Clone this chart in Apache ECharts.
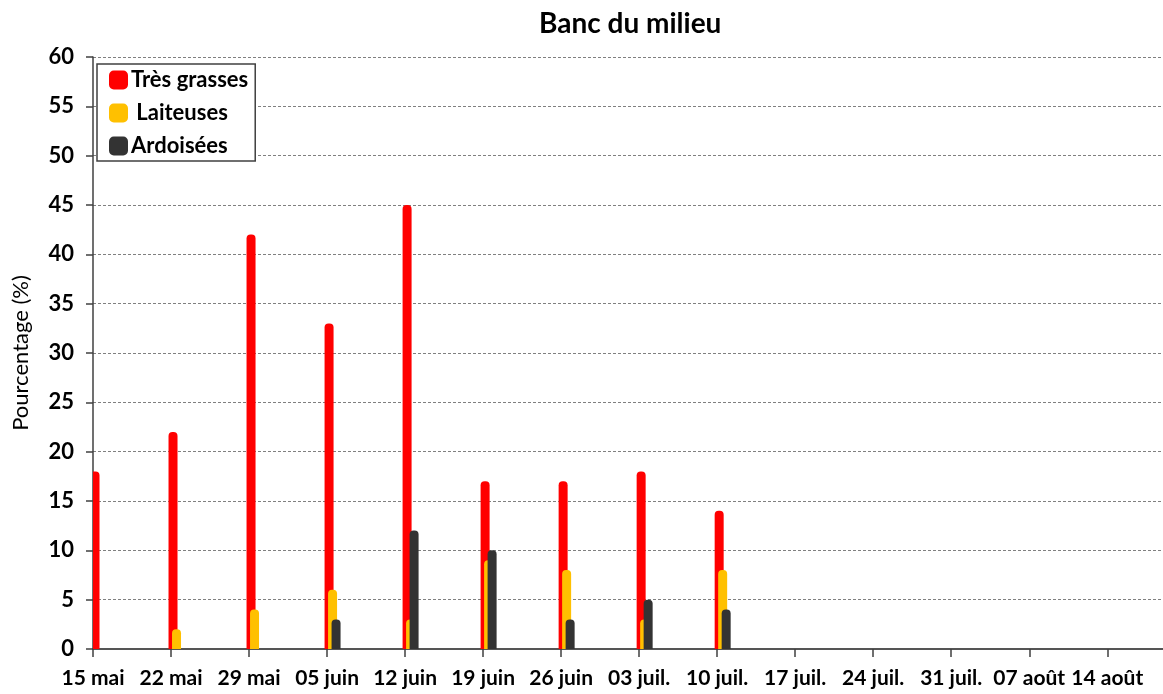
<!DOCTYPE html>
<html>
<head>
<meta charset="utf-8">
<script src="https://cdn.jsdelivr.net/npm/echarts@6/dist/echarts.min.js"></script>
<style>
  html, body { margin: 0; padding: 0; background: #fff; }
  #chart { width: 1163px; height: 694px; }
</style>
</head>
<body>
<div id="chart"></div>
<script>
// weekly sampling dates (tick labels), one every 7 days from 15 mai
const weekLabels = ['15 mai', '22 mai', '29 mai', '05 juin', '12 juin', '19 juin', '26 juin',
  '03 juil.', '10 juil.', '17 juil.', '24 juil.', '31 juil.', '07 août', '14 août'];

// values in % for the sampled weeks (15 mai .. 10 juil.)
const tresGrasses = [18, 22, 42, 33, 45, 17, 17, 18, 14];
const laiteuses   = [0, 2, 4, 6, 3, 9, 8, 3, 8];
const ardoisees   = [0, 0, 0, 3, 12, 10, 3, 5, 4];

const FONT = 'Lato, "Noto Sans", sans-serif';

// x value = days since 15 mai
const toPoints = vals => vals.map((v, i) => [i * 7, v]);

// bars are thin overlapping columns, each shifted a few pixels right of the tick
function barRenderer(offset) {
  return function (params, api) {
    const top = api.coord([api.value(0), api.value(1)]);
    const base = api.coord([api.value(0), 0]);
    const w = 9;
    const h = base[1] - top[1];
    if (h <= 0) return null;
    return {
      type: 'rect',
      shape: { x: top[0] + offset - w / 2, y: top[1], width: w, height: h, r: [4, 4, 0, 0] },
      style: api.style()
    };
  };
}

const chart = echarts.init(document.getElementById('chart'));

chart.setOption({
  animation: false,
  title: {
    text: 'Banc du milieu',
    left: 534,
    top: 5,
    textStyle: { fontFamily: FONT, fontWeight: 'bold', fontSize: 28, color: '#000' }
  },
  legend: {
    orient: 'vertical',
    left: 97,
    top: 64,
    padding: [5, 7, 4, 12],
    itemGap: 11,
    itemWidth: 19,
    itemHeight: 19,
    icon: 'roundRect',
    borderColor: '#404040',
    borderWidth: 1.5,
    backgroundColor: '#fff',
    formatter: name => (name === 'Laiteuses' ? ' ' + name : name),
    textStyle: { fontFamily: FONT, fontWeight: 'bold', fontSize: 22, lineHeight: 21, color: '#000', padding: [0, 0, 0, -2] }
  },
  grid: {
    left: 93,
    right: 0,
    top: 57,
    bottom: 45
  },
  xAxis: [
    {
      type: 'value',
      min: 0,
      max: 96,
      interval: 7,
      axisLine: { onZero: false, lineStyle: { color: '#404040', width: 1.5 } },
      axisTick: { show: true, length: 8, lineStyle: { color: '#404040', width: 1.5 } },
      splitLine: { show: false },
      axisLabel: {
        margin: 19,
        fontFamily: FONT,
        fontWeight: 'bold',
        fontSize: 21,
        color: '#000',
        showMaxLabel: false,
        formatter: v => (v % 7 === 0 && weekLabels[v / 7] !== undefined ? weekLabels[v / 7] : '')
      }
    },
    {
      // top frame line of the plot area
      type: 'value',
      position: 'top',
      min: 0,
      max: 96,
      axisLine: { show: true, lineStyle: { color: '#555', width: 2 } },
      axisTick: { show: false },
      axisLabel: { show: false },
      splitLine: { show: false }
    }
  ],
  yAxis: {
    type: 'value',
    min: 0,
    max: 60,
    interval: 5,
    name: 'Pourcentage (%)',
    nameLocation: 'middle',
    nameGap: 61,
    nameTextStyle: { fontFamily: FONT, fontSize: 22, color: '#000' },
    axisLine: { show: true, lineStyle: { color: '#404040', width: 1.5 } },
    axisTick: { show: true, length: 7, lineStyle: { color: '#404040', width: 1.5 } },
    axisLabel: { margin: 19, fontFamily: FONT, fontWeight: 'bold', fontSize: 22, color: '#000' },
    splitLine: { show: true, lineStyle: { color: '#808080', type: [3, 2], width: 1 } }
  },
  series: [
    {
      name: 'Très grasses',
      type: 'custom',
      clip: true,
      renderItem: barRenderer(2),
      itemStyle: { color: '#ff0000' },
      encode: { x: 0, y: 1 },
      data: toPoints(tresGrasses)
    },
    {
      name: 'Laiteuses',
      type: 'custom',
      clip: true,
      renderItem: barRenderer(5.5),
      itemStyle: { color: '#ffc000' },
      encode: { x: 0, y: 1 },
      data: toPoints(laiteuses)
    },
    {
      name: 'Ardoisées',
      type: 'custom',
      clip: true,
      renderItem: barRenderer(9),
      itemStyle: { color: '#333333' },
      encode: { x: 0, y: 1 },
      data: toPoints(ardoisees)
    }
  ]
});
</script>
</body>
</html>
